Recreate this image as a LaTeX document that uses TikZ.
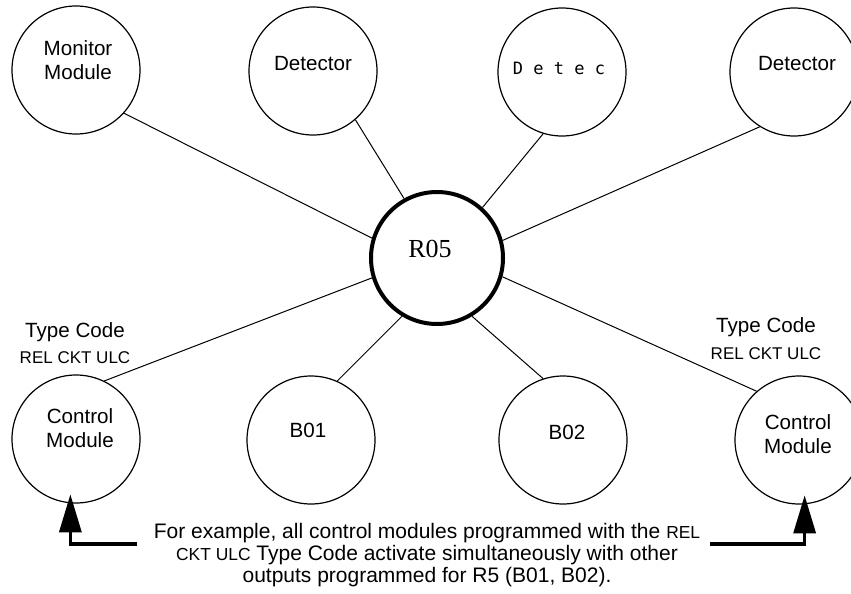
\documentclass[tikz,border=0pt]{standalone}
\usepackage{fontspec}
\setmainfont{Liberation Sans}
\newfontfamily\relayfont{Liberation Serif}
\newfontfamily\codefont{DejaVu Sans Mono}
\usetikzlibrary{arrows.meta}

\begin{document}
\begin{tikzpicture}[x=0.5pt, y=-0.5pt,
	unit/.style={circle, draw, line width=0.6pt, minimum size=64pt, inner sep=0pt},
	tag/.style={font=\fontsize{10.3}{12}\selectfont, align=center, inner sep=0pt},
	wire/.style={line width=0.5pt},
	feed/.style={line width=1.65pt, shorten >=-4.5pt, -{Triangle[length=19pt, width=11pt]}}]
	\useasboundingbox (0,0) rectangle (851,594);
	% central relay point
	\node[unit, line width=2pt, minimum size=66pt] (r05) at (437,258) {};
	\node[tag, font=\relayfont\fontsize{13}{15}\selectfont] (r05T) at (430,249) {R05};
	% top row
	\node[unit] (mon) at (76,70) {};
	\node[tag] (monT) at (78,60) {Monitor\\Module};
	\node[unit] (detA) at (313,71) {};
	\node[tag] (detAT) at (313,64) {Detector};
	\node[unit] (detB) at (562,72) {};
	\node[tag, font=\codefont\fontsize{8.5}{9}\selectfont] (detBT) at (559,68) {D e t e c};
	\node[unit] (detC) at (794,72) {};
	\node[tag] (detCT) at (797,64) {Detector};
	% bottom row
	\node[unit] (cmA) at (76,439) {};
	\node[tag] (cmAT) at (80,428) {Control\\Module};
	\node[unit] (bA) at (311,440) {};
	\node[tag] (bAT) at (308,430) {B01};
	\node[unit] (bB) at (563,440) {};
	\node[tag] (bBT) at (567,432) {B02};
	\node[unit] (cmB) at (799,440) {};
	\node[tag] (cmBT) at (798,434) {Control\\Module};
	% type codes
	\node[tag] (codeA) at (75,343) {Type Code\\[1pt]{\fontsize{8.5}{10}\selectfont REL CKT ULC}};
	\node[tag] (codeB) at (766,339) {Type Code\\[1.5pt]{\fontsize{8.5}{10}\selectfont REL CKT ULC}};
	% wiring to R05
	\draw[wire] (mon.-42) -- (r05.163);
	\draw[wire] (detA.-49) -- (r05.119);
	\draw[wire] (detB.-107) -- (r05.48);
	\draw[wire] (detC.-122) -- (r05.15);
	\draw[wire] (cmA.64) -- (r05.-163);
	\draw[wire] (bA.66) -- (r05.-121);
	\draw[wire] (bB.108) -- (r05.-59);
	\draw[wire] (cmB.131) -- (r05.-16);
	% note with pointers
	\node[tag, font=\fontsize{10.5}{11}\selectfont] (note) at (427,555)
		{For example, all control modules programmed with the {\fontsize{8.7}{10}\selectfont REL}\\
		{\fontsize{8.7}{10}\selectfont CKT ULC} Type Code activate simultaneously with other\\
		outputs programmed for R5 (B01, B02).};
	\coordinate (noteL) at (137,544);
	\coordinate (noteR) at (710,544);
	\draw[feed] (noteL) -| (cmA.-95);
	\draw[feed] (noteR) -| (cmB.-85);
\end{tikzpicture}
\end{document}
